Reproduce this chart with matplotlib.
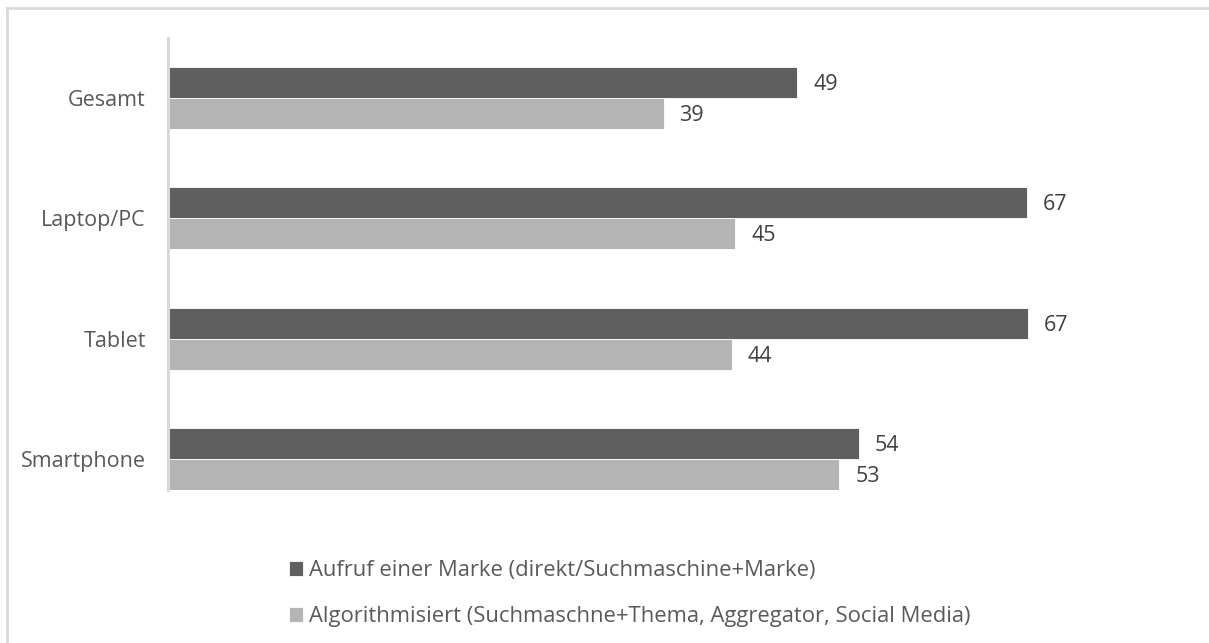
import numpy as np
import matplotlib
matplotlib.use("Agg")
from matplotlib import pyplot as plt
from matplotlib.lines import Line2D

categories = ["Gesamt", "Laptop/PC", "Tablet", "Smartphone"]
# bar lengths, plus the printed labels
marke = [49.0, 66.9, 67.0, 53.8]
algo = [38.6, 44.2, 43.9, 52.3]
marke_labels = ["49", "67", "67", "54"]
algo_labels = ["39", "45", "44", "53"]
series_names = ["Aufruf einer Marke (direkt/Suchmaschine+Marke)",
                "Algorithmisiert (Suchmaschne+Thema, Aggregator, Social Media)"]

dark = "#5f5f5f"
light = "#b4b4b4"
txt = "#595959"
grid = "#d9d9d9"

plt.rcParams['font.family'] = ['Open Sans', 'DejaVu Sans']

W, H = 1209, 643
fig = plt.figure(figsize=(W / 100, H / 100), dpi=100)

# outer frame (only top and left edges visible)
fig.add_artist(Line2D([7 / W, 7 / W], [0, 1 - 8 / H], transform=fig.transFigure, color=grid, lw=2))
fig.add_artist(Line2D([7 / W, 1], [1 - 8 / H, 1 - 8 / H], transform=fig.transFigure, color=grid, lw=2))

left, right, top, bottom = 168, 1195, 38, 490
ax = fig.add_axes([left / W, 1 - bottom / H, (right - left) / W, (bottom - top) / H])

y = np.arange(len(categories))
h = 0.258
ax.barh(y - h / 2, marke, height=h, color=dark, edgecolor="white", linewidth=0.6, label=series_names[0])
ax.barh(y + h / 2, algo, height=h, color=light, edgecolor="white", linewidth=0.6, label=series_names[1])

for yi, v, lab in zip(y - h / 2, marke, marke_labels):
    ax.annotate(lab, (v, yi), xytext=(11.5, -1.5), textcoords="offset points",
                va="center", ha="left", fontsize=15.5, color="#404040")
for yi, v, lab in zip(y + h / 2, algo, algo_labels):
    ax.annotate(lab, (v, yi), xytext=(11.5, -1.5), textcoords="offset points",
                va="center", ha="left", fontsize=15.5, color="#404040")

ax.set_xlim(0, 80)
ax.set_ylim(3.26, -0.5)
ax.set_yticks(y)
ax.set_yticklabels(categories, fontsize=15.5, color=txt)
ax.tick_params(axis="y", length=0, pad=16)
ax.set_xticks([])
for s in ["top", "right", "bottom"]:
    ax.spines[s].set_visible(False)
ax.spines["left"].set_color(grid)
ax.spines["left"].set_linewidth(2.2)

leg = fig.legend(loc="upper left", bbox_to_anchor=(289 / W, 1 - 560 / H), frameon=False,
                 fontsize=15.8, handlelength=0.65, handleheight=0.65, handletextpad=0.25,
                 labelspacing=1.15, borderpad=0, borderaxespad=0)
for t in leg.get_texts():
    t.set_color(txt)

fig.savefig("out.png", dpi=100)
